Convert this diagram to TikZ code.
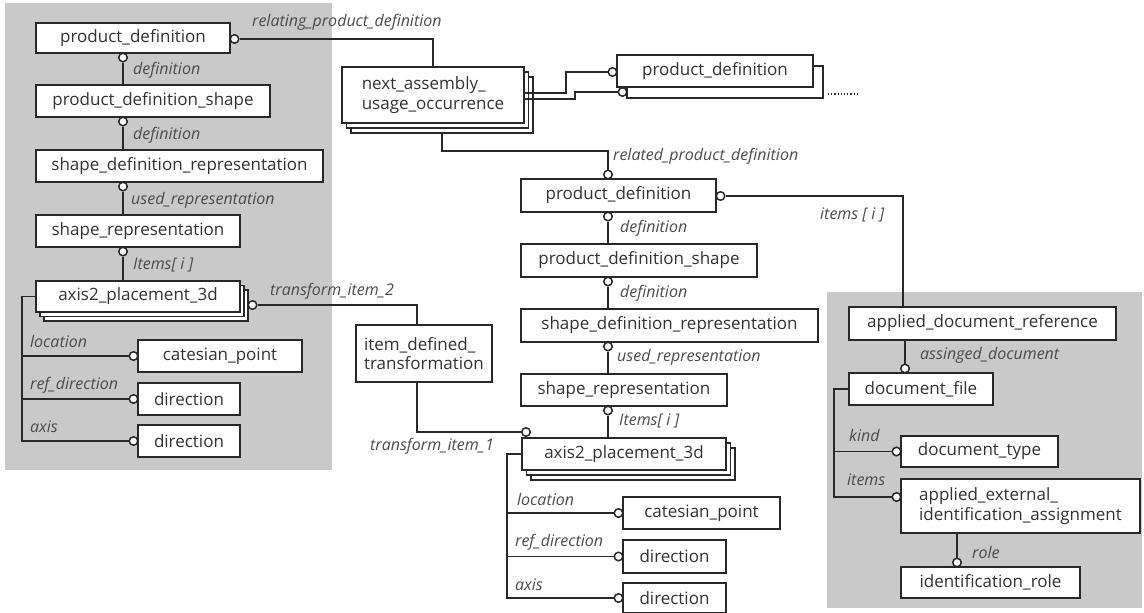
\documentclass[tikz,border=0pt]{standalone}
\usepackage{fontspec}
\setmainfont{Open Sans}
\definecolor{panelc}{RGB}{201,201,201}
\definecolor{linec}{RGB}{40,40,40}
\definecolor{textc}{RGB}{50,50,50}
\definecolor{lblc}{RGB}{75,75,75}
\tikzset{
  box/.style={draw=linec, line width=1.8pt, fill=white, inner sep=0pt, text=textc, font=\fontsize{17}{19.5}\selectfont},
  lbl/.style={anchor=west, inner sep=0pt, text=lblc, font=\fontsize{16}{18}\selectfont\itshape},
  conn/.style={draw=linec, line width=1.8pt},
  circ/.style={circle, draw=linec, fill=white, line width=1.5pt, minimum size=8.5pt, inner sep=0pt},
}
\begin{document}
\begin{tikzpicture}[x=1pt,y=-1pt]
\fill[white] (0,0) rectangle (1144,613);
\useasboundingbox (0,0) rectangle (1144,613);
% panels
\fill[panelc] (5,3) rectangle (332,470);
\fill[panelc] (827,292) rectangle (1142,608);

% ---------- left panel ----------
\node[box, minimum width=194, minimum height=30] (lpd) at (133,38) {product\_definition};
\node[box, minimum width=234, minimum height=32] (lpds) at (153,101) {product\_definition\_shape};
\node[box, minimum width=287, minimum height=32] (lsdr) at (179.5,166) {shape\_definition\_representation};
\node[box, minimum width=204, minimum height=32] (lsr) at (138,231) {shape\_representation};
\node[box, minimum width=204, minimum height=31] (lax3) at (146,305.5) {};
\node[box, minimum width=204, minimum height=31] (lax2) at (142,301) {};
\node[box, minimum width=204, minimum height=31] (lax) at (138,296.5) {axis2\_placement\_3d};
\node[box, minimum width=164, minimum height=32] (lcp) at (220,356) {catesian\_point};
\node[box, minimum width=102, minimum height=32] (ld1) at (189,399) {direction};
\node[box, minimum width=102, minimum height=32] (ld2) at (189,441) {direction};

\node[circ] (lc1) at (123,57.5) {};
\node[circ] (lc2) at (123,121.5) {};
\node[circ] (lc3) at (123,186.5) {};
\node[circ] (lc4) at (123,251.5) {};
\draw[conn] (lc1) -- (lc1 |- lpds.north);
\draw[conn] (lc2) -- (lc2 |- lsdr.north);
\draw[conn] (lc3) -- (lc3 |- lsr.north);
\draw[conn] (lc4) -- (lc4 |- lax.north);
\node[lbl] (ll1) at (133,70) {definition};
\node[lbl] (ll2) at (133,135) {definition};
\node[lbl] (ll3) at (131,200) {used\_representation};
\node[lbl] (ll4) at (133,265) {Items[ i ]};

\coordinate (lbtop) at (22,296.5);
\coordinate (lb1) at (22,356);
\coordinate (lb2) at (22,399);
\node[circ] (lcc1) at (133.5,356) {};
\node[circ] (lcc2) at (133.5,399) {};
\node[circ] (lcc3) at (133.5,441) {};
\draw[conn] (lax.west) -- (lbtop) |- (lcc3);
\draw[conn] (lb1) -- (lcc1);
\draw[conn] (lb2) -- (lcc2);
\node[lbl] (ll5) at (30,341) {location};
\node[lbl] (ll6) at (30,385) {ref\_direction};
\node[lbl] (ll7) at (30,427) {axis};

% ---------- next assembly ----------
\node[box, minimum width=182, minimum height=56] (nauo3) at (442,105) {};
\node[box, minimum width=182, minimum height=56] (nauo2) at (437.5,100) {};
\node[box, minimum width=182, minimum height=56, align=left] (nauo) at (433,95) {next\_assembly\_\\usage\_occurrence};

\node[circ] (lcr) at (234.5,39) {};
\draw[conn] (lcr) -| (nauo.north);
\node[lbl] (lrel) at (252,22) {relating\_product\_definition};

% right top product_definition
\node[box, minimum width=196, minimum height=32] (rpd2) at (725,82) {};
\node[box, minimum width=196, minimum height=32] (rpd) at (715,71) {product\_definition};
\node[circ] (rc1) at (612.5,72) {};
\node[circ] (rc2) at (622.5,92) {};
\coordinate (n1) at (524,93);
\coordinate (n2) at (524,99);
\draw[conn] (n1) -- (566,93) |- (rc1);
\draw[conn] (n2) -- (575,99) |- (rc2);
\coordinate (dt1) at (828,94);
\coordinate (dt2) at (858,94);
\draw[linec, line width=1.2pt, dotted] (dt1) -- (dt2);

% ---------- middle column ----------
\node[box, minimum width=195, minimum height=33] (mpd) at (618.5,195.5) {product\_definition};
\node[box, minimum width=236, minimum height=33] (mpds) at (639,260.5) {product\_definition\_shape};
\node[box, minimum width=297, minimum height=33] (msdr) at (669.5,325.5) {shape\_definition\_representation};
\node[box, minimum width=206, minimum height=32] (msr) at (624,390) {shape\_representation};
\node[box, minimum width=204, minimum height=32] (max3) at (633,464) {};
\node[box, minimum width=204, minimum height=32] (max2) at (628.5,459) {};
\node[box, minimum width=204, minimum height=32] (max) at (624,454) {axis2\_placement\_3d};
\node[box, minimum width=157, minimum height=32] (mcp) at (701.5,513) {catesian\_point};
\node[box, minimum width=103, minimum height=33] (md1) at (674.5,556.5) {direction};
\node[box, minimum width=103, minimum height=30] (md2) at (674.5,598) {direction};

\node[circ] (mc0) at (608,174.5) {};
\draw[conn] (nauo3.south) -- ++(0,17) -| (mc0);
\node[lbl] (mrel) at (613,156) {related\_product\_definition};

\node[circ] (mc1) at (608,216.5) {};
\node[circ] (mc2) at (608,281.5) {};
\node[circ] (mc3) at (608,346.5) {};
\node[circ] (mc4) at (608,410.5) {};
\draw[conn] (mc1) -- (mc1 |- mpds.north);
\draw[conn] (mc2) -- (mc2 |- msdr.north);
\draw[conn] (mc3) -- (mc3 |- msr.north);
\draw[conn] (mc4) -- (mc4 |- max.north);
\node[lbl] (ml1) at (620,228) {definition};
\node[lbl] (ml2) at (620,293) {definition};
\node[lbl] (ml3) at (617,357) {used\_representation};
\node[lbl] (ml4) at (619,421) {Items[ i ]};

\coordinate (mbtop) at (507,454);
\coordinate (mb1) at (507,513);
\coordinate (mb2) at (507,556.5);
\node[circ] (mcc1) at (618.5,513) {};
\node[circ] (mcc2) at (618.5,556.5) {};
\node[circ] (mcc3) at (618.5,598) {};
\draw[conn] (max.west) -- (mbtop) |- (mcc3);
\draw[conn] (mb1) -- (mcc1);
\draw[conn] (mb2) -- (mcc2);
\node[lbl] (ml5) at (517,499) {location};
\node[lbl] (ml6) at (515,542) {ref\_direction};
\node[lbl] (ml7) at (515,585) {axis};

% ---------- item_defined_transformation ----------
\node[box, minimum width=136, minimum height=57, align=left] (idt) at (424,353.5) {item\_defined\_\\transformation};
\coordinate (idtin) at (417,325);
\coordinate (idtout) at (417,382);
\node[circ] (laxc) at (252.5,305) {};
\draw[conn] (laxc) -| (idtin);
\node[lbl] (lt2) at (270,291) {transform\_item\_2};
\node[circ] (mtc) at (526,432) {};
\draw[conn] (idtout) |- (mtc);
\node[lbl] (lt1) at (370,446) {transform\_item\_1};

% ---------- right panel ----------
\node[box, minimum width=267, minimum height=33] (adr) at (982.5,323.5) {applied\_document\_reference};
\node[box, minimum width=144, minimum height=32] (df) at (921,389) {document\_file};
\node[box, minimum width=157, minimum height=31] (dt) at (979.5,451.5) {document\_type};
\node[box, minimum width=239, minimum height=54, align=left] (aeia) at (1020.5,506) {applied\_external\_\\identification\_assignment};
\node[box, minimum width=179, minimum height=31] (ir) at (990.5,582.5) {identification\_role};

\node[circ] (mcr) at (720.5,196) {};
\coordinate (adrin) at (903,307);
\draw[conn] (mcr) -| (adrin);
\node[lbl] (litems) at (820,215) {items [ i ]};

\coordinate (adrout) at (905,340);
\node[circ] (rdc) at (905,368.5) {};
\draw[conn] (adrout) -- (rdc);
\node[lbl] (lad) at (920,355) {assinged\_document};

\coordinate (rbtop) at (834,389);
\coordinate (rb1) at (834,451.5);
\node[circ] (rcc1) at (896.5,451.5) {};
\node[circ] (rcc2) at (896.5,497) {};
\draw[conn] (df.west) -- (rbtop) |- (rcc2);
\draw[conn] (rb1) -- (rcc1);
\node[lbl] (lkind) at (849,435) {kind};
\node[lbl] (litm) at (847,480) {items};

\coordinate (aeout) at (957,533);
\node[circ] (rrc) at (957,562.5) {};
\draw[conn] (aeout) -- (rrc);
\node[lbl] (lrole) at (972,552) {role};
\end{tikzpicture}
\end{document}
